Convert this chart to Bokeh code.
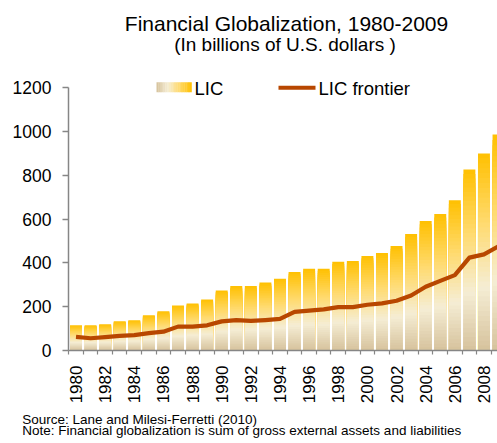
import numpy as np
from bokeh.plotting import figure
from bokeh.models import Range1d, FixedTicker, Title
from bokeh.embed import file_html
from bokeh.resources import INLINE
from bokeh.core.properties import value

# ---------------- data ----------------
years = list(range(1980, 2010))
lic = [115, 115, 120, 133, 138, 161, 179, 206, 215, 233,
       274, 294, 294, 310, 328, 359, 373, 373, 405, 409,
       432, 445, 477, 532, 591, 623, 686, 827, 900, 986]
lic_frontier = [62, 56, 61, 67, 70, 79, 86, 109, 109, 115,
                133, 139, 135, 139, 144, 176, 182, 188, 198, 198,
                209, 215, 227, 251, 291, 318, 344, 424, 439, 476]
y_ticks = [0, 200, 400, 600, 800, 1000, 1200]
x_label_years = list(range(1980, 2009, 2))
title_text = "Financial Globalization, 1980-2009"
subtitle_text = "(In billions of U.S. dollars )"
legend_labels = ["LIC", "LIC frontier"]
source_text = "Source: Lane and Milesi-Ferretti  (2010)"
note_text = "Note: Financial globalization is sum of gross external assets and liabilities"

# ---------------- layout ----------------
W, H = 497, 443
ML, MB = 68, 93
frame_w = W - ML
frame_h = H - MB
px_per_unit = 43.8 / 200.0
px_per_year = 14.57
x0 = 1979.485
x1 = x0 + frame_w / px_per_year
y1 = frame_h / px_per_unit

FONT_NAME = "Liberation Sans"
FONT = value(FONT_NAME)
GOLD = (255, 192, 0)
stops = [(0.0, (214, 194, 156)), (0.32, (245, 237, 212)),
         (0.65, (255, 218, 110)), (1.0, GOLD)]


def grad(f):
    for (f0, c0), (f1, c1) in zip(stops[:-1], stops[1:]):
        if f <= f1:
            t = (f - f0) / (f1 - f0)
            c = [int(round(a + (b - a) * t)) for a, b in zip(c0, c1)]
            return "#%02x%02x%02x" % tuple(c)
    return "#%02x%02x%02x" % GOLD


def dx(px):  # page px -> data x
    return x0 + (px - ML) / px_per_year


def dy(py):  # page px -> data y
    return (frame_h - py) / px_per_unit


p = figure(width=W, height=H, output_backend="svg", toolbar_location=None,
           title=None, x_range=Range1d(x0, x1), y_range=Range1d(0, y1),
           min_border_left=ML, min_border_right=0, min_border_top=0,
           min_border_bottom=MB)
p.outline_line_color = None
p.grid.visible = False
p.background_fill_color = "white"

# gradient bars: paint from full height down to smaller portions
N = 40
lic_arr = np.array(lic, dtype=float)
for k in range(N, 0, -1):
    c = grad((k - 0.5) / N)
    p.vbar(x=years, bottom=0, top=lic_arr * k / N, width=0.82,
           fill_color=c, line_color=None)

p.line(years, lic_frontier, line_color="#B84700", line_width=4.2,
       line_join="round")

# title & subtitle
p.text(x=[dx(286)], y=[dy(23.4)], text=[title_text], text_align="center",
       text_baseline="middle", text_font=FONT, text_font_size="21px",
       text_color="black")
p.text(x=[dx(284.5)], y=[dy(44.2)], text=[subtitle_text], text_align="center",
       text_baseline="middle", text_font=FONT, text_font_size="19px",
       text_color="black")

# legend
M = 20
sx0, sx1 = 156, 191
for i in range(M):
    c = grad((i + 0.5) / M)
    p.quad(left=[dx(sx0 + (sx1 - sx0) * i / M)],
           right=[dx(sx0 + (sx1 - sx0) * (i + 1) / M + 0.3)],
           bottom=[dy(91.7)], top=[dy(81.7)], fill_color=c, line_color=None)
p.text(x=[dx(194)], y=[dy(87.5)], text=[legend_labels[0]], text_align="left",
       text_baseline="middle", text_font=FONT, text_font_size="18.5px",
       text_color="black")
p.segment(x0=[dx(278)], y0=[dy(87.3)], x1=[dx(315)], y1=[dy(87.3)],
          line_color="#B84700", line_width=4)
p.text(x=[dx(318)], y=[dy(87.5)], text=[legend_labels[1]], text_align="left",
       text_baseline="middle", text_font=FONT, text_font_size="18.5px",
       text_color="black")

# axes
AX = "#868686"
ya = p.yaxis[0]
ya.ticker = FixedTicker(ticks=y_ticks)
ya.bounds = (0, 1200)
ya.axis_line_color = AX
ya.axis_line_width = 1.5
ya.major_tick_line_color = AX
ya.major_tick_line_width = 1.5
ya.major_tick_out = 6
ya.major_tick_in = 0
ya.minor_tick_line_color = None
ya.major_label_standoff = 11
ya.major_label_text_font = FONT_NAME
ya.major_label_text_font_size = "17.5px"
ya.major_label_text_color = "black"

xa = p.xaxis[0]
xa.ticker = FixedTicker(ticks=x_label_years,
                        minor_ticks=[y - 0.5 for y in years] + [2009.5])
xa.axis_line_color = AX
xa.axis_line_width = 1.5
xa.major_tick_line_color = None
xa.major_tick_out = 0
xa.major_tick_in = 0
xa.minor_tick_line_color = AX
xa.minor_tick_line_width = 1.2
xa.minor_tick_out = 4
xa.minor_tick_in = 0
xa.major_label_orientation = np.pi / 2
xa.major_label_standoff = 11
xa.major_label_text_font = FONT_NAME
xa.major_label_text_font_size = "17px"
xa.major_label_text_color = "black"

# notes below the axis (two lines in one title block)
p.add_layout(Title(text=source_text + "\n" + note_text, align="left",
                   offset=21.7 - ML, text_font=FONT_NAME,
                   text_font_size="13.5px", text_line_height=0.74,
                   text_font_style="normal", text_color="black",
                   standoff=8), "below")

open("out.html", "w").write(file_html(p, INLINE))
